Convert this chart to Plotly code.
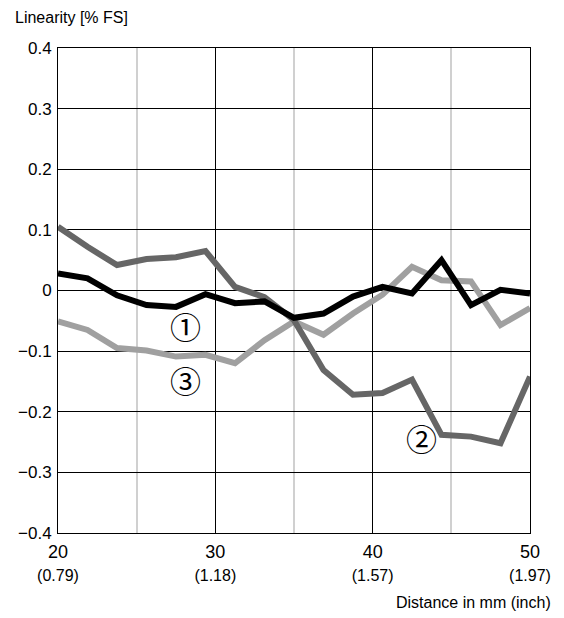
import plotly.graph_objects as go

distance_mm = [20 + i * 30 / 16 for i in range(17)]
curve1 = [0.028, 0.020, -0.008, -0.024, -0.027, -0.006, -0.021, -0.018, -0.045,
          -0.038, -0.010, 0.006, -0.005, 0.050, -0.024, 0.001, -0.005]
curve2 = [0.105, 0.072, 0.042, 0.052, 0.055, 0.065, 0.006, -0.011, -0.049,
          -0.131, -0.172, -0.169, -0.147, -0.238, -0.241, -0.252, -0.142]
curve3 = [-0.051, -0.065, -0.095, -0.099, -0.109, -0.106, -0.120, -0.082, -0.051,
          -0.073, -0.038, -0.007, 0.039, 0.017, 0.015, -0.057, -0.029]

x_tickvals = [20, 30, 40, 50]
x_ticktext = ["20<br><span style='font-size:16px'>(0.79)</span>",
              "30<br><span style='font-size:16px'>(1.18)</span>",
              "40<br><span style='font-size:16px'>(1.57)</span>",
              "50<br><span style='font-size:16px'>(1.97)</span>"]
y_tickvals = [0.4, 0.3, 0.2, 0.1, 0, -0.1, -0.2, -0.3, -0.4]
y_ticktext = ["0.4", "0.3", "0.2", "0.1", "0", "\u22120.1", "\u22120.2", "\u22120.3", "\u22120.4"]

labels = [("\u2460", 28.1, -0.057), ("\u2462", 28.1, -0.147), ("\u2461", 43.1, -0.243)]

FONT = "Liberation Sans"

fig = go.Figure()
fig.add_trace(go.Scatter(x=distance_mm, y=curve3, mode="lines",
                         line=dict(color="#a0a0a0", width=6), name="3"))
fig.add_trace(go.Scatter(x=distance_mm, y=curve2, mode="lines",
                         line=dict(color="#666666", width=6), name="2"))
fig.add_trace(go.Scatter(x=distance_mm, y=curve1, mode="lines",
                         line=dict(color="#000000", width=6), name="1"))

for txt, lx, ly in labels:
    fig.add_annotation(x=lx, y=ly, text=txt, showarrow=False,
                       font=dict(family="Noto Sans CJK JP", size=31, color="black"))

fig.add_annotation(xref="paper", yref="paper", x=-0.096, y=1.0638, xanchor="left", yanchor="middle",
                   text="Linearity [% FS]", showarrow=False,
                   font=dict(family=FONT, size=16, color="black"))
fig.add_annotation(xref="paper", yref="paper", x=1.048, y=-0.1435, xanchor="right", yanchor="middle",
                   text="Distance in mm (inch)", showarrow=False,
                   font=dict(family=FONT, size=16, color="black"))

fig.update_layout(
    width=564, height=618,
    margin=dict(l=58, r=34, t=48, b=85),
    plot_bgcolor="white", paper_bgcolor="white",
    showlegend=False,
    font=dict(family=FONT, size=17, color="black"),
    xaxis=dict(range=[20, 50], tickvals=x_tickvals, ticktext=x_ticktext,
               showgrid=True, gridcolor="black", gridwidth=1,
               minor=dict(tickvals=[25, 35, 45], showgrid=True, gridcolor="#d0d0d0", gridwidth=2),
               showline=True, linecolor="black", linewidth=1, mirror=True,
               ticks="", zeroline=False, tickfont=dict(size=18), ticklabelstandoff=2),
    yaxis=dict(range=[-0.4, 0.4], tickvals=y_tickvals, ticktext=y_ticktext,
               showgrid=True, gridcolor="black", gridwidth=1,
               showline=True, linecolor="black", linewidth=1, mirror=True,
               ticks="", zeroline=False, tickfont=dict(size=17), ticklabelstandoff=2),
)

fig.write_html("out.html", config={"displayModeBar": False},
               post_script="document.body.style.margin='0';document.body.style.overflow='hidden';")
